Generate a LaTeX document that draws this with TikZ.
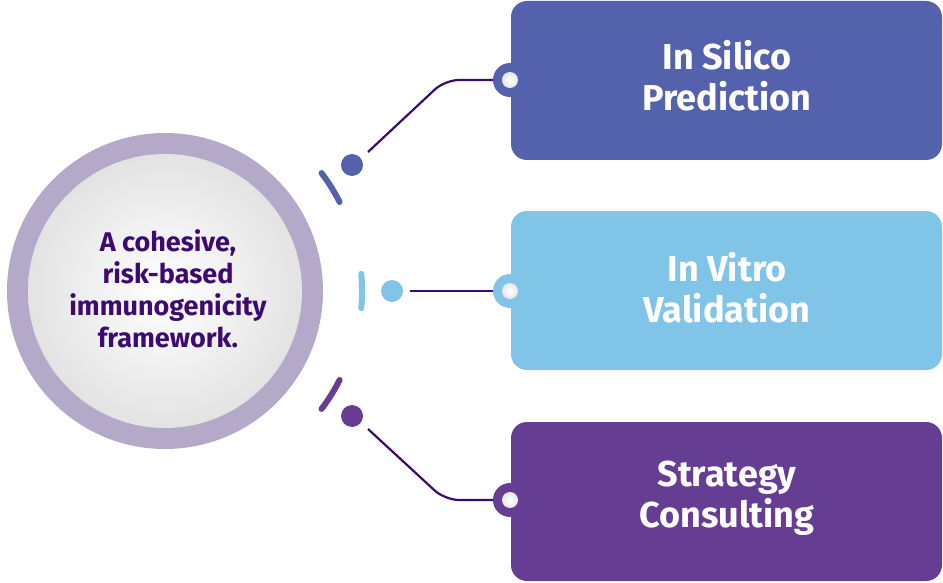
\documentclass[tikz,border=0pt]{standalone}
\usepackage{fontspec}
\setmainfont{Fira Sans}
\begin{document}
\begin{tikzpicture}[x=1pt,y=-1pt,
  box/.style={rounded corners=16pt},
  btxt/.style={text=white,font=\fontsize{36}{41}\selectfont\bfseries,align=center},
  conn/.style={draw=lnc,line width=2.2pt,rounded corners=14pt},
  arcst/.style={line width=6pt,line cap=round}]
\definecolor{cA}{HTML}{5462AE}\definecolor{cB}{HTML}{80C4E8}\definecolor{cC}{HTML}{653D92}
\definecolor{lnc}{HTML}{3B0A6E}\definecolor{ring}{HTML}{B5A9C9}\definecolor{ctxt}{HTML}{3D0A72}
\useasboundingbox (0,0) rectangle (943,583);
% boxes
\fill[cA,box] (511,1) rectangle (942,160);
\fill[cB,box] (511,211) rectangle (942,370);
\fill[cC,box] (511,422) rectangle (942,581);
\node[btxt] (b1) at (727,76) {In Silico\\Prediction};
\node[btxt] (b2) at (727,288) {In Vitro\\Validation};
\node[btxt] (b3) at (727,498) {Strategy\\Consulting};
% tabs
\foreach \y/\c/\n in {80/cA/t1,291/cB/t2,500/cC/t3}{
  \fill[\c] (510,\y) circle (17);
  \shade[inner color=white,outer color=gray!20] (510,\y) circle (8);
  \coordinate (\n) at (493,\y);
}
% big circle
\fill[ring] (165,291) circle (158);
\shade[inner color=white,outer color=gray!22] (165,291) circle (137);
\node[text=ctxt,font=\fontsize{27}{32}\selectfont\bfseries,align=center] (c) at (168,289)
 {A cohesive,\\risk-based\\immunogenicity\\framework.};
% arcs
\draw[arcst,cC] (165,291) ++(37:196) arc (37:27:196);
\draw[arcst,cB] (165,291) ++(5:197) arc (5:-5:197);
\draw[arcst,cA] (165,291) ++(-27:196) arc (-27:-37:196);
% dots
\fill[cA] (352,165) circle (11) coordinate (d1);
\fill[cB] (392,291) circle (11) coordinate (d2);
\fill[cC] (352,416) circle (11) coordinate (d3);
\coordinate (s1) at (368,152); \coordinate (s3) at (368,429);
\draw[conn] (s1) -- (445,80) -- (t1);
\draw[conn] (410,291) -- (t2);
\draw[conn] (s3) -- (445,500) -- (t3);
\end{tikzpicture}
\end{document}
